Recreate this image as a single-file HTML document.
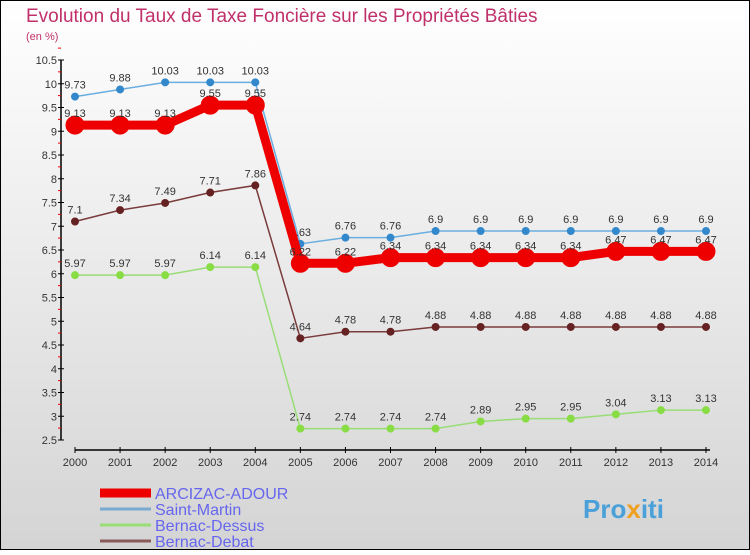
<!DOCTYPE html>
<html><head><meta charset="utf-8"><style>
body{margin:0;width:750px;height:550px;overflow:hidden;font-family:"Liberation Sans",sans-serif}
</style></head><body>
<svg width="750" height="550" xmlns="http://www.w3.org/2000/svg" id="chart">
<defs><linearGradient id="bg" x1="0" y1="0" x2="0" y2="1"><stop offset="0" stop-color="#ffffff"/><stop offset="1" stop-color="#d4d4d4"/></linearGradient></defs>
<rect x="0.5" y="0.5" width="749" height="549" fill="url(#bg)" stroke="#000"/>
<text x="26" y="22" font-size="19" fill="#c0306a">Evolution du Taux de Taxe Foncière sur les Propriétés Bâties</text>
<text x="26" y="40" font-size="11" fill="#c0306a">(en %)</text>
<g id="axes"></g><g id="series"></g><g id="legend"></g>
<text x="583" y="518" font-size="26" font-weight="bold" fill="#4aa0d8">Pro<tspan fill="#f0a020">x</tspan>iti</text>
</svg>
<script>
const years=[2000,2001,2002,2003,2004,2005,2006,2007,2008,2009,2010,2011,2012,2013,2014];
const yTicks=[2.5,3,3.5,4,4.5,5,5.5,6,6.5,7,7.5,8,8.5,9,9.5,10,10.5];
const arcizac=[9.13,9.13,9.13,9.55,9.55,6.22,6.22,6.34,6.34,6.34,6.34,6.34,6.47,6.47,6.47];
const saintMartin=[9.73,9.88,10.03,10.03,10.03,6.63,6.76,6.76,6.9,6.9,6.9,6.9,6.9,6.9,6.9];
const bernacDessus=[5.97,5.97,5.97,6.14,6.14,2.74,2.74,2.74,2.74,2.89,2.95,2.95,3.04,3.13,3.13];
const bernacDebat=[7.1,7.34,7.49,7.71,7.86,4.64,4.78,4.78,4.88,4.88,4.88,4.88,4.88,4.88,4.88];
const ns="http://www.w3.org/2000/svg";
const X=i=>75+i*(631/14);
const Y=v=>60+(10.5-v)*47.5;
function mk(t,a,p){const e=document.createElementNS(ns,t);for(const k in a)e.setAttribute(k,a[k]);p.appendChild(e);return e;}
const ax=document.getElementById('axes');
let yl=mk('line',{x1:61,y1:60,x2:61,y2:440,stroke:'#000','stroke-width':1.5},ax);


yTicks.forEach(v=>{
 const tk=mk('line',{x1:58,x2:64,y1:Y(v),y2:Y(v),stroke:'#000'},ax);
 
 
 const t=mk('text',{x:57,y:Y(v)+4,'font-size':11,'text-anchor':'end',fill:'#333'},ax);t.textContent=String(v);
 
 
 const m=mk('line',{x1:58,x2:61,y1:Y(v)-11.9,y2:Y(v)-11.9,stroke:'#e00'},ax);
 
 
});
let xl=mk('line',{x1:75,y1:450,x2:710,y2:450,stroke:'#000','stroke-width':1.5},ax);


years.forEach((y,i)=>{
 const tk=mk('line',{x1:X(i),x2:X(i),y1:447,y2:453,stroke:'#000'},ax);
 
 
 const t=mk('text',{x:X(i),y:466,'font-size':11,'text-anchor':'middle',fill:'#333'},ax);t.textContent=y;
 
 
});
const sg=document.getElementById('series');
function series(data,color,w,r,name,pt){
 const g=mk('g',{},sg);
 
 
 const pl=mk('polyline',{points:data.map((v,i)=>X(i)+','+Y(v)).join(' '),fill:'none',stroke:color,'stroke-width':w},g);
 
 
 data.forEach((v,i)=>{
  const c=mk('circle',{cx:X(i),cy:Y(v),r:r,fill:pt,stroke:pt},g);
  
  
  const t=mk('text',{x:X(i),y:Y(v)-8,'font-size':11,'text-anchor':'middle',fill:'#333'},g);
  t.textContent=String(v);
  
  
 });
}
series(bernacDessus,'#99dd77',1.5,3.5,'bernac-dessus','#88dd44');
series(bernacDebat,'#7a3b3b',1.5,3.5,'bernac-debat','#662222');
series(saintMartin,'#6aaee0',1.5,3.5,'saint-martin','#3388cc');
series(arcizac,'#ee0000',9,9,'arcizac-adour','#ee0000');
const lg=document.getElementById('legend');
const items=[['ARCIZAC-ADOUR','#ee0000',9],['Saint-Martin','#7aaad0',3],['Bernac-Dessus','#99dd77',3],['Bernac-Debat','#8a5a5a',3]];
items.forEach((it,i)=>{
 const y=493+i*16;
 const g=mk('g',{},lg);
 
 
 mk('line',{x1:100,x2:151,y1:y,y2:y,stroke:it[1],'stroke-width':it[2]},g);
 const t=mk('text',{x:155,y:y+6,'font-size':16,fill:'#6666ee'},g);t.textContent=it[0];
});
</script>
</body></html>
